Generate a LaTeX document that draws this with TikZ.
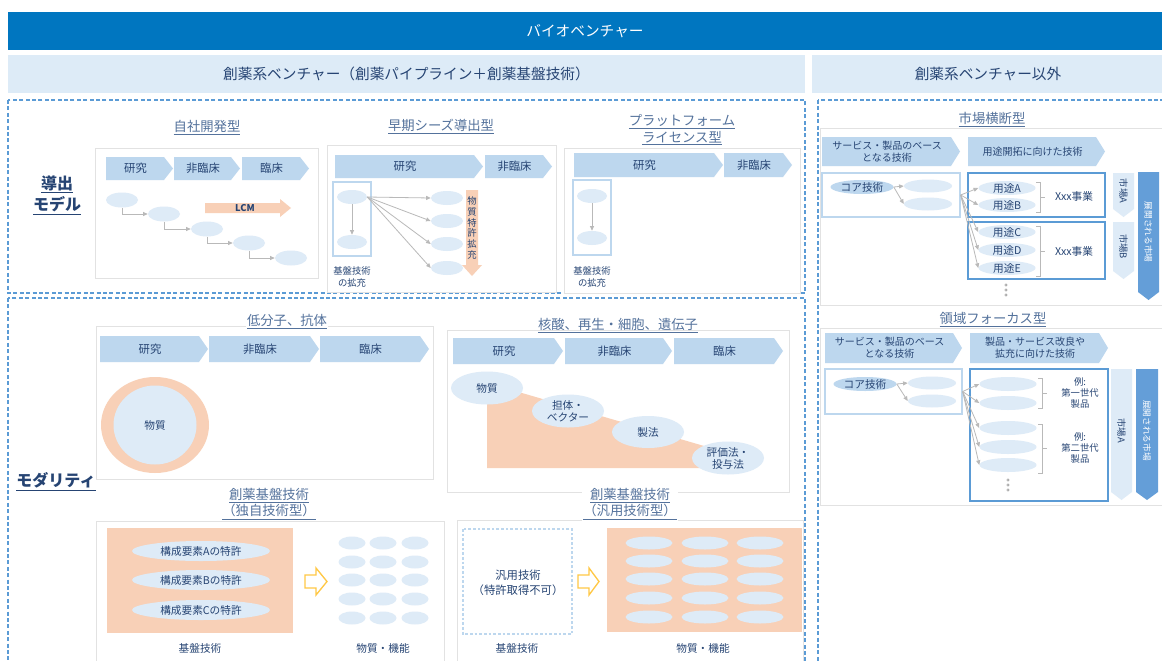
\documentclass[tikz,border=0pt]{standalone}
\usepackage{fontspec}
\setmainfont{Noto Sans CJK JP}
\usetikzlibrary{arrows.meta,shapes.geometric}
\newdimen\pxu \pxu=0.75pt
\definecolor{hdrblue}{RGB}{0,118,192}
\definecolor{subhdr}{RGB}{221,235,247}
\definecolor{chev}{RGB}{189,215,238}
\definecolor{ell}{RGB}{222,235,247}
\definecolor{dtext}{RGB}{38,68,115}
\definecolor{ttext}{RGB}{84,114,156}
\definecolor{dashblue}{RGB}{91,155,213}
\definecolor{salmon}{RGB}{248,208,183}
\definecolor{yel}{RGB}{255,200,70}
\definecolor{conn}{RGB}{185,185,185}
\definecolor{pnl}{RGB}{226,226,226}
\definecolor{bigarr}{RGB}{100,158,216}
\definecolor{boxblue}{RGB}{91,155,213}
\newcommand{\chv}[7][]{%
  \fill[chev] (#3,#4) -- ({#5-9},#4) -- (#5,{(#4+#6)/2}) -- ({#5-9},#6) -- (#3,#6) -- cycle;
  \node[chvtext,#1] (#2) at ({(#3+#5)/2-4},{(#4+#6)/2}) {#7};}
\newcommand{\dchv}[8][]{%
  \fill[#8] (#3,#4) -- (#5,#4) -- (#5,{#6-8}) -- ({(#3+#5)/2},#6) -- (#3,{#6-8}) -- cycle;
  \node[rottext,#1] (#2) at ({(#3+#5)/2},{(#4+#6)/2-4}) {#7};}
\newcommand{\yarr}[4]{%
  \draw[yarrow] (#1,{#2+7}) -- ({#1+11},{#2+7}) -- ({#1+11},#2) -- (#3,{(#2+#4)/2}) -- ({#1+11},#4) -- ({#1+11},{#4-7}) -- (#1,{#4-7}) -- cycle;}
\newcommand{\brc}[3]{% x, y1, y2
  \draw[brcline] ({#1-4},#2) -- (#1,#2) -- (#1,#3) -- ({#1-4},#3) (#1,{(#2+#3)/2}) -- ({#1+5},{(#2+#3)/2});}
\newcommand{\vdotsat}[2]{%
  \foreach \dy in {-5,0,5}{\fill[conn] (#1,{#2+\dy}) circle[radius=0.8pt];}}
\tikzset{
  chvtext/.style={font=\fontsize{8.5}{10}\selectfont, text=dtext, align=center, inner sep=0pt},
  smalltext/.style={font=\fontsize{7.5}{9}\selectfont},
  rottext/.style={rotate=-90, font=\fontsize{7}{8}\selectfont, text=dtext, inner sep=0pt},
  el/.style 2 args={ellipse, fill=ell, minimum width=#1\pxu, minimum height=#2\pxu, inner sep=0pt, text=dtext, font=\fontsize{8}{9}\selectfont},
  title/.style={font=\fontsize{10}{12.5}\selectfont, text=ttext, align=center, inner sep=0pt},
  lbl/.style={font=\fontsize{12}{16}\selectfont\bfseries, text=dtext, align=center, inner sep=0pt},
  txt/.style={font=\fontsize{8}{10}\selectfont, text=dtext, align=center, inner sep=0pt},
  tiny/.style={font=\fontsize{7}{8.5}\selectfont, text=dtext, align=center, inner sep=0pt},
  dashbox/.style={draw=dashblue, line width=1.1pt, dash pattern=on 3pt off 1.8pt},
  panel/.style={draw=pnl, line width=0.6pt, fill=white},
  innerbox/.style={draw=chev, line width=0.9pt},
  conn/.style={draw=conn, line width=0.6pt, -{Triangle[length=3.5pt,width=3pt]}},
  yarrow/.style={draw=yel, line width=1pt, fill=white},
  brcline/.style={draw=conn, line width=0.7pt},
}
\begin{document}
\begin{tikzpicture}[x=0.75pt,y=-0.75pt]
\clip (0,0) rectangle (1162,660);
\fill[white] (0,0) rectangle (1162,660);
% header
\node[fill=hdrblue, text=white, minimum width=1154\pxu, minimum height=38\pxu, inner sep=0pt, font=\fontsize{11}{13}\selectfont] (hdr) at (585,31) {バイオベンチャー};
\node[fill=subhdr, text=dtext, minimum width=797\pxu, minimum height=38\pxu, inner sep=0pt, font=\fontsize{11}{13}\selectfont] (sub1) at (406.5,74) {創薬系ベンチャー（創薬パイプライン＋創薬基盤技術）};
\node[fill=subhdr, text=dtext, minimum width=352\pxu, minimum height=38\pxu, inner sep=0pt, font=\fontsize{11}{13}\selectfont] (sub2) at (988,74) {創薬系ベンチャー以外};
% dashed frames
\draw[dashbox] (8,100) rectangle (805,293);
\draw[dashbox] (8,298) rectangle (805,670);
\draw[dashbox] (818,100) rectangle (1170,670);
\node[lbl] (l1) at (57,195) {\underline{導出}\\\underline{モデル}};
\node[lbl] (l2) at (56,482) {\underline{モダリティ}};

% ---------- 自社開発型
\draw[panel] (95,148) rectangle (318,278);
\node[title] (t1) at (207,128) {\underline{自社開発型}};
\chv{a1}{106}{157}{173}{180}{研究}
\chv{a2}{174}{157}{240}{180}{非臨床}
\chv{a3}{242}{157}{309}{180}{臨床}
\fill[salmon] (205,203) -- (280,203) -- (280,199) -- (291,208) -- (280,217) -- (280,213) -- (205,213) -- cycle;
\node[font=\fontsize{7}{8}\selectfont\bfseries, text=dtext, inner sep=0pt] (lcm) at (245,208) {LCM};
\node[el={32}{15}] (e1) at (122,200) {};
\node[el={32}{15}] (e2) at (164,214) {};
\node[el={32}{15}] (e3) at (207,229) {};
\node[el={32}{15}] (e4) at (249,243) {};
\node[el={32}{15}] (e5) at (291,258) {};
\draw[conn] (e1.south) |- (e2.west);
\draw[conn] (e2.south) |- (e3.west);
\draw[conn] (e3.south) |- (e4.west);
\draw[conn] (e4.south) |- (e5.west);

% ---------- 早期シーズ導出型
\draw[panel] (327,145) rectangle (556,292);
\node[title] (t2) at (441,127) {\underline{早期シーズ導出型}};
\chv{b1}{335}{155}{483}{178}{研究}
\chv{b2}{485}{155}{552}{178}{非臨床}
\draw[innerbox] (333,182) rectangle (371,256);
\node[el={30}{14}] (s1) at (352,197) {};
\node[el={30}{14}] (s2) at (352,242) {};
\draw[conn] (s1.south) -- (s2.north);
\fill[salmon] (466,190) -- (478,190) -- (478,265) -- (482,265) -- (472,276) -- (462,265) -- (466,265) -- cycle;
\node[tiny, font=\fontsize{7}{8}\selectfont] (v1) at (472,228) {物\\質\\特\\許\\拡\\充};
\node[el={32}{14}] (r1) at (447,198) {};
\node[el={32}{14}] (r2) at (447,221) {};
\node[el={32}{14}] (r3) at (447,244) {};
\node[el={32}{14}] (r4) at (447,268) {};
\draw[conn] (s1.east) -- (r1.west);
\draw[conn] (s1.east) -- (r2.west);
\draw[conn] (s1.east) -- (r3.west);
\draw[conn] (s1.east) -- (r4.west);
\node[tiny] (k1) at (352,277) {基盤技術\\の拡充};

% ---------- プラットフォームライセンス型
\draw[panel] (564,148) rectangle (800,293);
\node[title] (t3) at (682,130) {\underline{プラットフォーム}\\\underline{ライセンス型}};
\chv{c1}{574}{153}{723}{177}{研究}
\chv{c2}{724}{153}{792}{177}{非臨床}
\draw[innerbox] (573,180) rectangle (611,255);
\node[el={30}{14}] (p1) at (592,196) {};
\node[el={30}{14}] (p2) at (592,238) {};
\draw[conn] (p1.south) -- (p2.north);
\node[tiny] (k2) at (592,277) {基盤技術\\の拡充};

% ---------- 低分子、抗体
\draw[panel] (96,326) rectangle (433,479);
\node[title, fill=white, inner sep=1pt] (t4) at (287,322) {\underline{低分子、抗体}};
\chv{d1}{100}{336}{208}{362}{研究}
\chv{d2}{209}{336}{319}{362}{非臨床}
\chv{d3}{320}{336}{429}{362}{臨床}
\node[ellipse, fill=salmon, minimum width=108\pxu, minimum height=96\pxu, inner sep=0pt] (ring) at (155,425) {};
\node[el={83}{79}] (core) at (155,425) {物質};

% ---------- 核酸、再生・細胞、遺伝子
\draw[panel] (447,330) rectangle (789,492);
\node[title] (t5) at (618,326) {\underline{核酸、再生・細胞、遺伝子}};
\chv{g1}{453}{338}{563}{364}{研究}
\chv{g2}{565}{338}{672}{364}{非臨床}
\chv{g3}{674}{338}{783}{364}{臨床}
\fill[salmon] (487,390) -- (522,393) -- (735,455) -- (735,468) -- (487,468) -- cycle;
\node[el={72}{33}] (h1) at (487,388) {物質};
\node[el={72}{33}, align=center] (h2) at (568,411) {担体・\\ベクター};
\node[el={72}{32}] (h3) at (648,432) {製法};
\node[el={72}{33}, align=center] (h4) at (728,458) {評価法・\\投与法};

% ---------- 創薬基盤技術（独自技術型）
\draw[panel] (96,521) rectangle (444,675);
\node[title, fill=white, inner sep=1pt] (t6) at (269,504) {\underline{創薬基盤技術}\\\underline{（独自技術型）}};
\fill[salmon] (107,528) rectangle (293,633);
\node[el={138}{20}] (q1) at (201,551) {構成要素Aの特許};
\node[el={138}{20}] (q2) at (201,580) {構成要素Bの特許};
\node[el={138}{20}] (q3) at (201,610) {構成要素Cの特許};
\yarr{305}{568}{327}{595}
\foreach \cx [count=\i] in {352,383,415}{
  \foreach \cy [count=\j] in {543,562,580,599,618}{
    \node[el={27}{13}] (w\i\j) at (\cx,\cy) {};
  }
}
\node[txt] (k3) at (200,648) {基盤技術};
\node[txt] (k4) at (383,648) {物質・機能};

% ---------- 創薬基盤技術（汎用技術型）
\draw[panel] (457,520) rectangle (803,675);
\node[title, fill=white, inner sep=1pt] (t7) at (630,504) {\underline{創薬基盤技術}\\\underline{（汎用技術型）}};
\draw[draw=chev, line width=0.8pt, dash pattern=on 2pt off 1.5pt] (463,529) rectangle (572,634);
\node[txt, font=\fontsize{8.5}{11}\selectfont] (gen) at (518,583) {汎用技術\\（特許取得不可）};
\yarr{578}{568}{599}{595}
\fill[salmon] (607,528) rectangle (802,632);
\foreach \cx [count=\i] in {649,705,760}{
  \foreach \cy [count=\j] in {543,561,579,598,617}{
    \node[el={47}{13}] (z\i\j) at (\cx,\cy) {};
  }
}
\node[txt] (k5) at (517,648) {基盤技術};
\node[txt] (k6) at (703,648) {物質・機能};

% ---------- 市場横断型
\draw[panel] (820,128) rectangle (1170,305);
\node[title] (t8) at (992,120) {\underline{市場横断型}};
\chv[smalltext]{m1}{822}{137}{960}{166}{サービス・製品のベース\\となる技術}
\chv[smalltext]{m2}{968}{137}{1105}{166}{用途開拓に向けた技術}
\node[draw=chev, line width=1pt, minimum width=138\pxu, minimum height=44\pxu, inner sep=0pt] (lb1) at (891,195) {};
\node[draw=boxblue, line width=1.2pt, minimum width=137\pxu, minimum height=44\pxu, inner sep=0pt] (bA) at (1036.5,195) {};
\node[draw=boxblue, line width=1.2pt, minimum width=137\pxu, minimum height=57\pxu, inner sep=0pt] (bB) at (1036.5,250.5) {};
\node[el={63}{14}, fill=chev] (cr1) at (862,187) {コア技術};
\node[el={48}{13}] (x1) at (928,186) {};
\node[el={48}{13}] (x2) at (928,204) {};
\draw[conn] (cr1.east) -- (x1.west);
\draw[conn] (cr1.east) -- (x2.west);
\node[el={57}{14}] (uA) at (1007,188) {用途A};
\node[el={57}{14}] (uB) at (1007,205) {用途B};
\node[el={57}{14}] (uC) at (1007,232) {用途C};
\node[el={57}{14}] (uD) at (1007,250) {用途D};
\node[el={57}{14}] (uE) at (1007,268) {用途E};
\foreach \u in {uA,uB,uC,uD,uE}{\draw[conn] (lb1.east) -- (\u.west);}
\brc{1040}{182}{212}
\brc{1040}{226}{276}
\node[txt] (xx1) at (1074,196) {Xxx事業};
\node[txt] (xx2) at (1074,251) {Xxx事業};
\vdotsat{1006}{290}
\dchv{mA}{1113}{173}{1134}{217}{市場A}{fill=ell}
\dchv{mB}{1113}{222}{1134}{279}{市場B}{fill=ell}
\dchv[text=white, font=\fontsize{6.5}{8}\selectfont]{big1}{1138}{172}{1159}{300}{展開される市場}{fill=bigarr}

% ---------- 領域フォーカス型
\draw[panel] (820,328) rectangle (1170,505);
\node[title] (t9) at (993,320) {\underline{領域フォーカス型}};
\chv[smalltext]{n1}{825}{333}{962}{363}{サービス・製品のベース\\となる技術}
\chv[smalltext]{n2}{970}{333}{1108}{363}{製品・サービス改良や\\拡充に向けた技術}
\node[draw=chev, line width=1pt, minimum width=137\pxu, minimum height=45\pxu, inner sep=0pt] (lb2) at (893.5,391.5) {};
\node[draw=boxblue, line width=1.2pt, minimum width=138\pxu, minimum height=132\pxu, inner sep=0pt] (bC) at (1039,435) {};
\node[el={63}{14}, fill=chev] (cr2) at (865,384) {コア技術};
\node[el={48}{13}] (y1) at (932,383) {};
\node[el={48}{13}] (y2) at (932,401) {};
\draw[conn] (cr2.east) -- (y1.west);
\draw[conn] (cr2.east) -- (y2.west);
\node[el={57}{14}] (f1) at (1008,384) {};
\node[el={57}{14}] (f2) at (1008,403) {};
\node[el={57}{14}] (f3) at (1008,428) {};
\node[el={57}{14}] (f4) at (1008,447) {};
\node[el={57}{14}] (f5) at (1008,465) {};
\foreach \u in {f1,f2,f3,f4,f5}{\draw[conn] (lb2.east) -- (\u.west);}
\brc{1042}{378}{408}
\brc{1042}{424}{473}
\node[tiny] (ex1) at (1080,393) {例:\\第一世代\\製品};
\node[tiny] (ex2) at (1080,448) {例:\\第二世代\\製品};
\vdotsat{1008}{485}
\dchv{mA2}{1111}{369}{1132}{500}{市場A}{fill=ell}
\dchv[text=white, font=\fontsize{6.5}{8}\selectfont]{big2}{1136}{369}{1158}{500}{展開される市場}{fill=bigarr}
\end{tikzpicture}
\end{document}
